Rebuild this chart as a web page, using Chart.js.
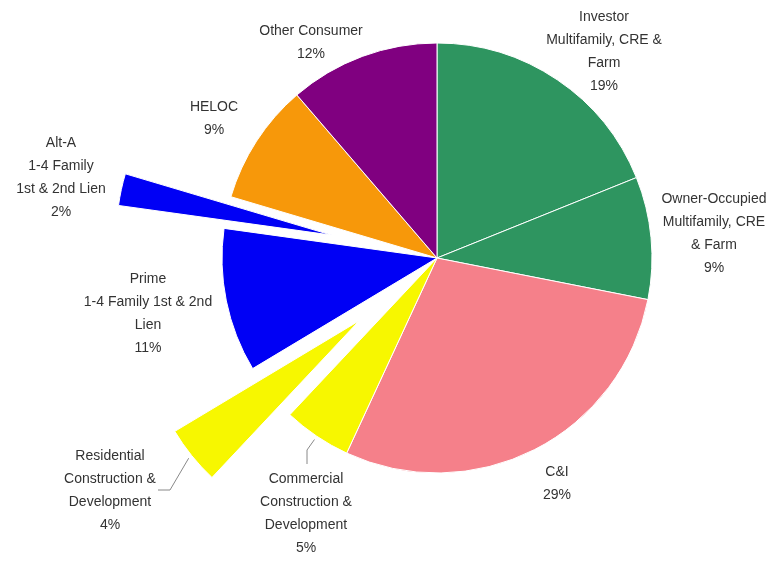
<!DOCTYPE html>
<html>
<head>
    <title>Loan Portfolio Pie</title>
    <meta charset="UTF-8">
    <script src="https://cdn.jsdelivr.net/npm/chart.js"></script>
    <style>
        body { margin: 0; background: #fff; }
        canvas { display: block; }
    </style>
</head>
<body>
    <canvas id="loan_pie" width="777" height="561"></canvas>
<script>
    // categories and values, clockwise from 12 o'clock
    var categories = [
        ['Investor', 'Multifamily, CRE &', 'Farm'],
        ['Owner-Occupied', 'Multifamily, CRE', '& Farm'],
        ['C&I'],
        ['Commercial', 'Construction &', 'Development'],
        ['Residential', 'Construction &', 'Development'],
        ['Prime', '1-4 Family 1st & 2nd', 'Lien'],
        ['Alt-A', '1-4 Family', '1st & 2nd Lien'],
        ['HELOC'],
        ['Other Consumer']
    ];
    // slice sizes (the printed % are rounded)
    var shares = [18.9, 9.2, 28.8, 5.1, 4.4, 10.8, 2.4, 9.1, 11.3];
    var pctLabels = ['19%', '9%', '29%', '5%', '4%', '11%', '2%', '9%', '12%'];

    var colors = ['#2e9560', '#2e9560', '#f5808a', '#f7f700', '#f7f700',
                  '#0000f5', '#0000f5', '#f7980a', '#800080'];
    // how far each slice is pulled out from the centre (px)
    var explode = [0, 0, 0, 0, 100, 0, 108, 0, 0];

    // label centre (first line) for each slice
    var labelPos = [
        [604, 17], [714, 199], [557, 472], [306, 479], [110, 456],
        [148, 279], [61, 143], [214, 107], [311, 31]
    ];
    var lineGap = 23;

    // leader lines: elbow points after the slice edge
    var leaders = {
        3: [[307, 450], [307, 464]],
        4: [[170, 490], [158, 490]]
    };

    var explodePlugin = {
        id: 'explode',
        afterDatasetsUpdate: function (chart) {
            var arcs = chart.getDatasetMeta(0).data;
            arcs.forEach(function (arc, i) {
                var d = explode[i];
                if (!d) return;
                var mid = (arc.startAngle + arc.endAngle) / 2;
                arc.x += Math.cos(mid) * d;
                arc.y += Math.sin(mid) * d;
            });
        }
    };

    var labelPlugin = {
        id: 'sliceLabels',
        afterDatasetsDraw: function (chart) {
            var c = chart.ctx;
            var arcs = chart.getDatasetMeta(0).data;
            c.save();
            // leader lines
            c.strokeStyle = '#888';
            c.lineWidth = 1;
            Object.keys(leaders).forEach(function (k) {
                var arc = arcs[k];
                var mid = (arc.startAngle + arc.endAngle) / 2;
                var r = arc.outerRadius + 4;
                c.beginPath();
                c.moveTo(arc.x + Math.cos(mid) * r, arc.y + Math.sin(mid) * r);
                leaders[k].forEach(function (p) { c.lineTo(p[0], p[1]); });
                c.stroke();
            });
            // texts
            c.fillStyle = '#333333';
            c.font = '14px "Liberation Sans", Arial, sans-serif';
            c.textAlign = 'center';
            c.textBaseline = 'middle';
            categories.forEach(function (lines, i) {
                var all = lines.concat([pctLabels[i]]);
                all.forEach(function (t, j) {
                    c.fillText(t, labelPos[i][0], labelPos[i][1] + j * lineGap);
                });
            });
            c.restore();
        }
    };

    var ctx = document.getElementById('loan_pie').getContext('2d');
    var chart = new Chart(ctx, {
        type: 'pie',
        data: {
            labels: categories.map(function (l) { return l.join(' '); }),
            datasets: [{
                data: shares,
                backgroundColor: colors,
                borderColor: '#ffffff',
                borderWidth: 1
            }]
        },
        options: {
            responsive: false,
            animation: false,
            events: [],
            radius: 215,
            layout: { padding: { left: 97, right: 0, top: 0, bottom: 45 } },
            plugins: {
                legend: { display: false },
                tooltip: { enabled: false }
            }
        },
        plugins: [explodePlugin, labelPlugin]
    });
</script>
</body>
</html>
